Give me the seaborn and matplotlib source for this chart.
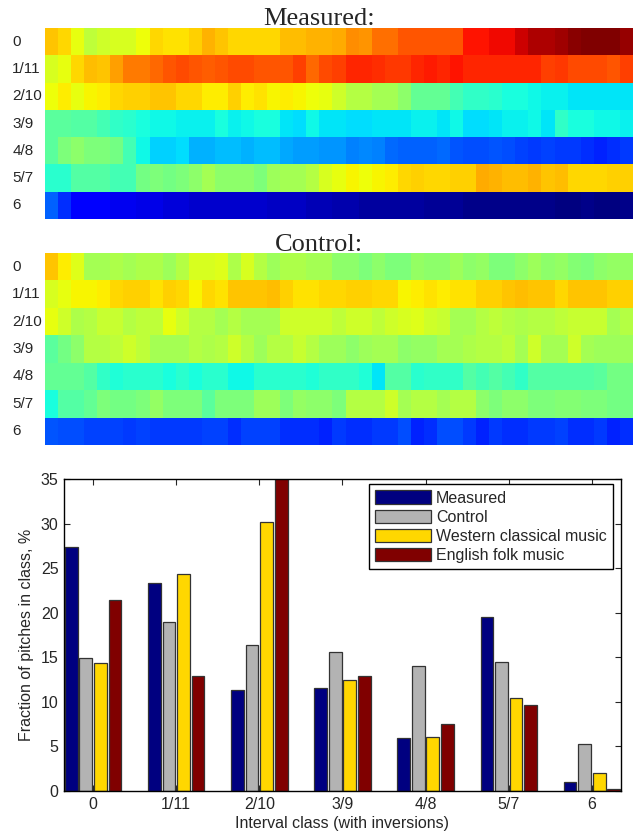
import numpy as np
import pandas as pd
import matplotlib
matplotlib.use('Agg')
import matplotlib.pyplot as plt
import seaborn as sns

sns.set_style('ticks')
plt.rcParams['font.family'] = ['Liberation Sans', 'DejaVu Sans']

interval_classes = ['0', '1/11', '2/10', '3/9', '4/8', '5/7', '6']

# heatmaps: position on the jet colour scale (0-100), 45 windows per interval class
measured_map = [
    [70, 68, 63, 58, 60, 61, 61, 64, 68, 67, 67, 69, 72, 70, 68, 68, 68, 68, 71, 71, 72, 72, 73,
     76, 75, 79, 79, 82, 82, 82, 82, 82, 89, 89, 90, 90, 93, 96, 96, 97, 99, 100, 100, 100, 98],
    [61, 63, 68, 71, 70, 74, 78, 78, 80, 82, 83, 82, 81, 82, 83, 83, 82, 82, 82, 84, 80, 83, 84,
     87, 87, 86, 85, 85, 87, 88, 87, 89, 87, 87, 87, 87, 87, 87, 84, 85, 83, 83, 83, 82, 84],
    [64, 66, 63, 65, 66, 68, 69, 69, 70, 70, 68, 68, 66, 66, 69, 66, 67, 65, 66, 65, 64, 63, 60,
     57, 57, 55, 55, 52, 47, 47, 47, 43, 41, 41, 40, 38, 38, 37, 36, 36, 35, 35, 35, 35, 35],
    [46, 46, 45, 45, 43, 41, 40, 38, 37, 37, 36, 36, 36, 38, 36, 37, 38, 38, 35, 34, 37, 35, 35,
     34, 34, 35, 35, 35, 36, 36, 35, 37, 34, 34, 35, 36, 36, 37, 35, 41, 38, 38, 37, 37, 36],
    [46, 50, 52, 50, 50, 49, 43, 37, 33, 33, 34, 30, 30, 31, 31, 30, 31, 31, 29, 28, 28, 27, 27,
     25, 26, 25, 23, 22, 22, 22, 23, 21, 20, 20, 21, 20, 19, 18, 19, 18, 18, 17, 16, 17, 18],
    [40, 40, 45, 45, 45, 43, 43, 49, 50, 49, 50, 52, 55, 52, 52, 52, 50, 54, 55, 55, 57, 61, 63,
     65, 64, 65, 66, 68, 69, 68, 68, 69, 69, 73, 72, 71, 71, 72, 70, 71, 68, 68, 68, 69, 69],
    [22, 17, 12, 11, 11, 10, 10, 9, 9, 8, 8, 7, 7, 7, 7, 7, 7, 6, 6, 6, 5, 5, 4,
     4, 3, 3, 3, 3, 3, 2, 2, 2, 1, 1, 1, 1, 1, 1, 1, 0, 0, 1, 0, 0, 1],
]

control_map = [
    [70, 66, 62, 55, 55, 56, 55, 56, 56, 54, 57, 61, 61, 62, 56, 61, 57, 54, 56, 56, 55, 55, 52,
     52, 50, 52, 50, 50, 53, 52, 52, 54, 52, 53, 50, 50, 52, 54, 52, 53, 51, 50, 52, 53, 53],
    [61, 63, 65, 65, 66, 68, 69, 69, 67, 69, 68, 65, 68, 67, 70, 70, 70, 71, 69, 67, 67, 68, 68,
     69, 69, 68, 68, 65, 66, 67, 66, 67, 67, 69, 69, 70, 71, 70, 70, 68, 70, 70, 70, 69, 69],
    [63, 60, 56, 57, 59, 59, 57, 58, 58, 63, 60, 57, 57, 55, 57, 55, 55, 55, 60, 60, 60, 60, 58,
     60, 60, 58, 60, 61, 62, 60, 59, 55, 55, 57, 58, 57, 56, 57, 57, 58, 59, 59, 59, 55, 57],
    [46, 49, 52, 57, 57, 58, 60, 58, 55, 55, 55, 57, 56, 57, 60, 57, 54, 57, 57, 59, 57, 54, 54,
     52, 54, 55, 55, 52, 53, 53, 55, 55, 56, 57, 57, 58, 55, 60, 55, 55, 60, 55, 54, 54, 54],
    [47, 47, 47, 45, 41, 39, 40, 40, 40, 38, 40, 38, 40, 40, 37, 37, 40, 40, 40, 40, 39, 41, 41,
     41, 39, 35, 45, 45, 40, 41, 41, 41, 45, 43, 45, 43, 41, 45, 45, 45, 45, 45, 46, 49, 49],
    [38, 45, 45, 47, 50, 49, 49, 50, 53, 50, 50, 50, 46, 50, 50, 50, 54, 54, 50, 53, 52, 52, 50,
     57, 57, 57, 60, 55, 57, 57, 55, 57, 57, 52, 50, 52, 52, 50, 50, 51, 51, 50, 50, 49, 49],
    [21, 20, 20, 19, 19, 19, 18, 19, 18, 18, 18, 18, 19, 19, 17, 19, 19, 19, 17, 17, 17, 16, 18,
     17, 17, 18, 18, 20, 16, 17, 20, 20, 18, 16, 18, 17, 17, 18, 18, 19, 17, 17, 18, 16, 17],
]

# bar chart: fraction of pitches in each interval class, %
series_names = ['Measured', 'Control', 'Western classical music', 'English folk music']
series_colors = ['#000080', '#b3b3b3', '#ffd700', '#800000']
measured_pct = [27.4, 23.3, 11.3, 11.6, 5.9, 19.5, 1.0]
control_pct = [14.9, 19.0, 16.4, 15.6, 14.0, 14.5, 5.3]
western_pct = [14.4, 24.3, 30.2, 12.4, 6.1, 10.4, 2.0]
folk_pct = [21.4, 12.9, 36.5, 12.9, 7.5, 9.7, 0.2]

fig = plt.figure(figsize=(6.38, 8.36), dpi=100)


def draw_map(rect, rows, title, title_y):
    ax = fig.add_axes(rect)
    sns.heatmap(np.array(rows), ax=ax, cmap='jet', vmin=0, vmax=100, cbar=False,
                xticklabels=False, yticklabels=interval_classes)
    ax.tick_params(axis='y', length=0, pad=23.5)
    for t in ax.get_yticklabels():
        t.set_rotation(0)
        t.set_ha('left')
        t.set_fontsize(11)
    fig.text(0.5, title_y, title, ha='center', va='baseline',
             family='Liberation Serif', fontsize=19)


draw_map([0.0705, 0.738, 0.9216, 0.2285], measured_map, 'Measured:', 0.970)
draw_map([0.0705, 0.4677, 0.9216, 0.2297], control_map, 'Control:', 0.6998)

df = pd.DataFrame({
    'interval': interval_classes * 4,
    'pct': measured_pct + control_pct + western_pct + folk_pct,
    'series': np.repeat(series_names, len(interval_classes)),
})

ax = fig.add_axes([0.1003, 0.0538, 0.873, 0.3732])
sns.barplot(data=df, x='interval', y='pct', hue='series', palette=series_colors,
            width=0.7, gap=0.12, saturation=1, edgecolor='#333333', linewidth=0.9, ax=ax)
ax.set_xlim(-0.35, 6.35)
ax.set_ylim(0, 35)
ax.set_yticks(range(0, 36, 5))
ax.tick_params(direction='in', top=True, right=True, length=4, width=0.8, labelsize=11.5, pad=4)
for s in ax.spines.values():
    s.set_visible(True)
    s.set_color('black')
    s.set_linewidth(1)
ax.set_xlabel('Interval class (with inversions)', fontsize=11.5, labelpad=3)
ax.set_ylabel('Fraction of pitches in class, %', fontsize=11.5, labelpad=5)

leg = ax.legend(loc='upper right', bbox_to_anchor=(0.986, 0.984), borderaxespad=0,
                fancybox=False, edgecolor='black', framealpha=1, fontsize=11.5,
                handlelength=3.5, handleheight=0.9, labelspacing=0.25,
                handletextpad=0.3, borderpad=0.4)
leg.get_frame().set_linewidth(1)

fig.savefig('out.png', dpi=100)
